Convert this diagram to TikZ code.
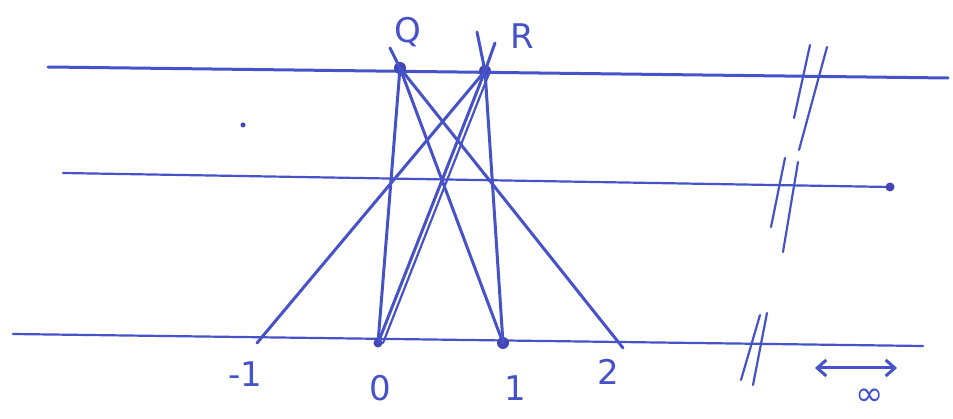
\documentclass[tikz,border=0pt]{standalone}
\usepackage{fontspec}
\setmainfont{DejaVu Sans}
\usetikzlibrary{arrows.meta}
\begin{document}
\begin{tikzpicture}[x=1pt,y=-1pt,
  pen/.style={draw={rgb,255:red,70;green,82;blue,200},line width=3pt,line cap=round},
  thin pen/.style={pen,line width=2.2pt},
  dot/.style={circle,fill={rgb,255:red,65;green,70;blue,180},inner sep=0pt,minimum size=12pt},
  lbl/.style={text={rgb,255:red,70;green,82;blue,200},font=\fontsize{34}{36}\selectfont,inner sep=0pt}]
\useasboundingbox (0,0) rectangle (953,419);
% horizontal lines
\coordinate (t1) at (48,67); \coordinate (t2) at (948,78);
\coordinate (m1) at (63,173); \coordinate (m2) at (890,187);
\coordinate (b1) at (13,334); \coordinate (b2) at (923,346);
\draw[pen] (t1) -- (t2);
\draw[thin pen] (m1) -- (m2);
\draw[thin pen] (b1) -- (b2);
\node[dot,minimum size=9pt] (mend) at (890,187) {};
% points
\node[dot] (Q) at (400,68) {};
\node[dot] (R) at (485,71) {};
\node[dot,minimum size=9pt] (Z) at (378,343) {};
\node[dot] (O) at (503,343) {};
\coordinate (M) at (257,343);
\coordinate (T) at (623,348);
% connectors
\draw[pen] (Q.center) -- (Z.center);
\draw[pen] (Q.center) -- (O.center);
\draw[pen] (Q.center) -- (T);
\draw[pen] (R.center) -- (M);
\draw[pen] (R.center) -- (Z.center);
\draw[thin pen] ([xshift=5pt]R.center) -- ([xshift=5pt]Z.center);
\draw[pen] (R.center) -- (O.center);
% small strokes above Q and R
\coordinate (q0) at (390,48);
\coordinate (r0) at (477,32);
\coordinate (r1) at (495,43);
\draw[pen] (q0) -- (Q.center);
\draw[pen] (r0) -- (R.center);
\draw[pen] (r1) -- (R.center);
% stray dot
\node[dot,minimum size=5pt] (sd) at (243,125) {};
% break marks
\draw[thin pen] (810,45) -- (794,118);
\draw[thin pen] (827,47) -- (799,150);
\draw[thin pen] (785,158) -- (771,227);
\draw[thin pen] (798,162) -- (783,252);
\draw[thin pen] (760,315) -- (741,380);
\draw[thin pen] (767,313) -- (753,385);
% labels
\node[lbl] (lQ) at (408,32) {Q};
\node[lbl] (lR) at (522,36) {R};
\node[lbl] (lm1) at (245,374) {-1};
\node[lbl] (l0) at (380,388) {0};
\node[lbl] (l1) at (515,388) {1};
\node[lbl] (l2) at (608,372) {2};
\coordinate (a1) at (815,368);
\coordinate (a2) at (897,368);
\draw[pen,{Straight Barb[length=9pt,width=16pt]}-{Straight Barb[length=9pt,width=16pt]}] (a1) -- (a2);
\node[lbl] (inf) at (870,397) {∞};
\end{tikzpicture}
\end{document}
